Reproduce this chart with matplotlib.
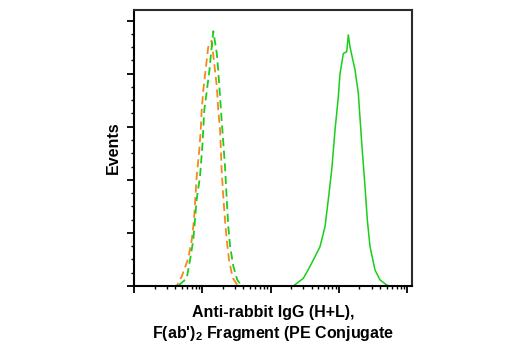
import numpy as np
import matplotlib
matplotlib.use('Agg')
import matplotlib.pyplot as plt
from matplotlib.ticker import LogLocator, MultipleLocator, NullFormatter

plt.rcParams['font.family'] = ['Liberation Sans', 'DejaVu Sans']
plt.rcParams['mathtext.fontset'] = 'custom'
plt.rcParams['mathtext.rm'] = 'Liberation Sans:bold'
plt.rcParams['mathtext.it'] = 'Liberation Sans:bold'
plt.rcParams['mathtext.bf'] = 'Liberation Sans:bold'

# isotype control (orange, dashed)
ctrl_x = [10, 42.2, 49.9, 62.4, 70.0, 75.6, 82.7, 90.3, 94.8, 98, 103.5, 112, 122, 137,
          163, 171, 182, 192, 203, 215, 228, 246, 279, 325, 357, 120000]
ctrl_y = [0, 0, 8.8, 26.1, 43.3, 62.2, 103, 128, 147, 166, 185, 204, 225, 231,
          188, 166, 147, 109, 84, 62, 43, 24.5, 7.5, 1, 0, 0]

# secondary only (green, dashed)
sec_x = [10, 44.1, 59.1, 66.1, 73.8, 82.7, 92.5, 100, 107, 116, 127, 137, 145,
         163, 171, 182, 192, 203, 215, 228, 240, 255, 285, 325, 378, 120000]
sec_y = [0, 0, 7.2, 24.5, 43.3, 81.6, 103, 131, 166, 183, 203, 225, 240,
         219, 203, 178, 156, 135, 112.4, 81.6, 56.2, 37.4, 18.5, 5.7, 0, 0]

# stained sample (green, solid)
pe_x = [10, 2148, 3013, 3600, 4217, 5284, 6263, 7000, 7852, 8774, 9800, 10380, 11610,
        13010, 13740, 14550, 17220, 19240, 21580, 24110, 26060, 28530, 33800,
        40000, 50100, 55000, 120000]
pe_y = [0, 0, 7.2, 16, 24.5, 37, 56, 81.6, 109.6, 147, 178, 200, 219,
        220.7, 236.5, 225, 203.5, 181.5, 134.5, 93.6, 62.2, 37, 15,
        5.7, 0.9, 0, 0]

orange = '#f7861f'
green = '#19cf19'

fig = plt.figure(figsize=(5.2, 3.5), dpi=100)
ax = fig.add_axes([0.2577, 0.1829, 0.5346, 0.7886])

ax.plot(pe_x, pe_y, color=green, lw=1.1)
ax.plot(ctrl_x, ctrl_y, color=orange, lw=1.3, linestyle=(0, (4.5, 2.5)))
ax.plot(sec_x, sec_y, color=green, lw=1.3, linestyle=(3, (4.5, 2.5)))

ax.set_xscale('log')
ax.set_xlim(10, 10 ** 5.07)
ax.set_ylim(0, 260)

ax.xaxis.set_major_locator(LogLocator(base=10, numticks=10))
ax.xaxis.set_minor_locator(LogLocator(base=10, subs=np.arange(2, 10), numticks=20))
ax.xaxis.set_major_formatter(NullFormatter())
ax.xaxis.set_minor_formatter(NullFormatter())
ax.yaxis.set_major_locator(MultipleLocator(50))
ax.yaxis.set_minor_locator(MultipleLocator(12.5))
ax.yaxis.set_major_formatter(NullFormatter())

ax.tick_params(axis='both', which='major', length=5, width=1.3, color='black')
ax.tick_params(axis='both', which='minor', length=2.3, width=1.0, color='black')

for side in ['left', 'bottom']:
    ax.spines[side].set_linewidth(1.5)
    ax.spines[side].set_color('black')
for side in ['top', 'right']:
    ax.spines[side].set_linewidth(1.5)
    ax.spines[side].set_color('#2b2b2b')

ax.set_ylabel('Events', fontsize=11.5, fontweight='bold', labelpad=1)
ax.set_xlabel("Anti-rabbit IgG (H+L),\nF(ab')$_2$ Fragment (PE Conjugate",
              fontsize=11.5, fontweight='bold', labelpad=5.5, linespacing=1.25)

fig.savefig('out.png', dpi=100)
